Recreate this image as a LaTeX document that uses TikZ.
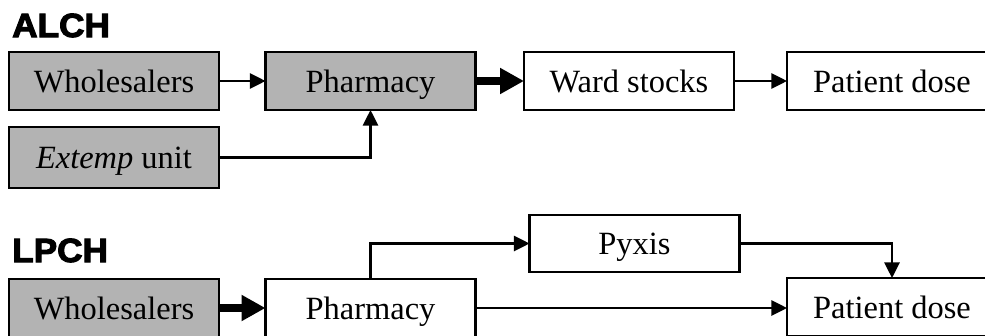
\documentclass[tikz,border=0pt]{standalone}
\usepackage{fontspec}
\setmainfont{Liberation Serif}
\newfontfamily\heavyfont{Liberation Sans}[BoldFeatures={FakeBold=3}]
\usetikzlibrary{arrows.meta}
\definecolor{boxgray}{RGB}{179,179,179}
\tikzset{
  box/.style={draw=black, line width=2pt, rectangle, minimum width=210*0.03cm,
    minimum height=58*0.03cm, inner sep=0pt, outer sep=0pt,
    font=\fontsize{27.7pt}{33pt}\selectfont, text height=0.86cm, text depth=0.2cm},
  graybox/.style={box, fill=boxgray},
  whitebox/.style={box, fill=white},
  thin arrow/.style={line width=1.8pt, -{Triangle[length=0.47cm, width=0.46cm]}},
  thick arrow/.style={line width=6.8pt, -{Triangle[length=0.72cm, width=0.74cm]}},
  sitelabel/.style={anchor=base west, inner sep=0pt, font=\heavyfont\bfseries\fontsize{28.6pt}{34pt}\selectfont}
}
\begin{document}
\begin{tikzpicture}[x=0.03cm, y=-0.03cm]
\useasboundingbox (0,0) rectangle (985,335);
\clip (0,0) rectangle (985,335);
% ALCH
\node[sitelabel] (alch) at (12,37) {\scalebox{1.05}[1]{ALCH}};
\node[graybox] (w1) at (114,81) {Wholesalers};
\node[graybox] (p1) at (370.5,81) {Pharmacy};
\node[graybox, minimum height=61*0.03cm] (e1) at (114,157.5) {\textit{Extemp} unit};
\node[whitebox] (ward) at (629,81) {Ward stocks};
\node[whitebox] (pat1) at (892,81) {Patient dose};
\draw[thin arrow] (w1) -- (p1);
\draw[thin arrow] (e1.east) -| (p1.south);
\draw[thick arrow] (p1) -- (ward);
\draw[thin arrow] (ward) -- (pat1);
% LPCH
\node[sitelabel] (lpch) at (12,262) {\scalebox{1.05}[1]{LPCH}};
\node[graybox] (w2) at (114,308) {Wholesalers};
\node[whitebox] (p2) at (370.5,308) {Pharmacy};
\node[whitebox, minimum height=57*0.03cm] (pyx) at (634.5,243.5) {Pyxis};
\node[whitebox] (pat2) at (892,307) {Patient dose};
\draw[thick arrow] (w2) -- (p2);
\draw[thin arrow] (p2.north) |- (pyx.west);
\draw[thin arrow] (pyx.east) -| (pat2.north);
\draw[thin arrow] (p2.east) -- (p2.east -| pat2.west);
\end{tikzpicture}
\end{document}
